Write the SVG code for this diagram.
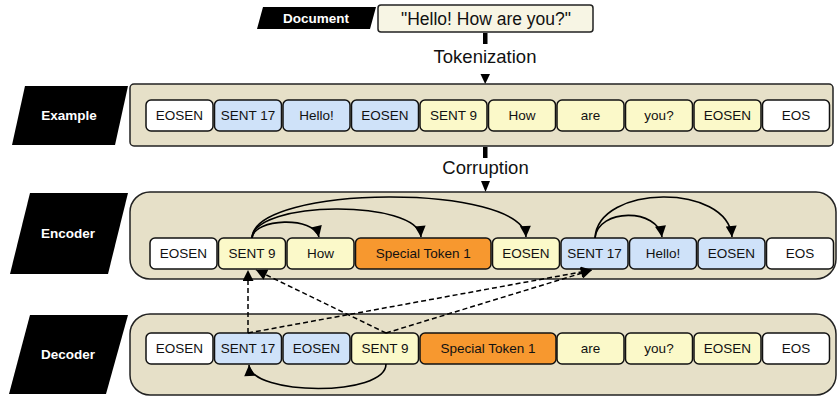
<svg xmlns="http://www.w3.org/2000/svg" width="837" height="396" viewBox="0 0 837 396">
  <defs>
    <marker id="arrow" viewBox="0 0 10 10" refX="10" refY="5" markerWidth="12" markerHeight="11" markerUnits="userSpaceOnUse" orient="auto">
      <path d="M0,0 L10,5 L0,10 Z" fill="#000"/>
    </marker>
    <style>
      .label { fill: #000; }
      .label-text { font-family: "Liberation Sans", Arial, sans-serif; font-weight: bold; font-size: 13.5px; fill: #fff; text-anchor: middle; dominant-baseline: central; }
      .panel { fill: #e6e0c8; stroke: #222; stroke-width: 1.5; }
      .tok { stroke: #111; stroke-width: 1.5; }
      .tok-text { font-family: "Liberation Sans", Arial, sans-serif; font-size: 13.5px; fill: #111; text-anchor: middle; dominant-baseline: central; }
      .white { fill: #ffffff; }
      .blue { fill: #cfe2f9; }
      .yellow { fill: #fbf9c9; }
      .orange { fill: #f7982f; }
      .step-text { font-family: "Liberation Sans", Arial, sans-serif; font-size: 18.5px; fill: #111; text-anchor: middle; dominant-baseline: central; }
      .arc { fill: none; stroke: #000; stroke-width: 1.6; marker-end: url(#arrow); }
      .dash { fill: none; stroke: #000; stroke-width: 1.5; stroke-dasharray: 5 3; marker-end: url(#arrow); }
    </style>
  </defs>

  <!-- Document -->
  <g id="document">
    <polygon class="label" points="263,7 376,7 370,29 257,29"/>
    <text class="label-text" x="316" y="18">Document</text>
    <rect x="378" y="5" width="215" height="27" rx="3" fill="#f7f5e4" stroke="#222" stroke-width="1.5"/>
    <text class="tok-text" x="486" y="19" style="font-size:17.5px">"Hello! How are you?"</text>
  </g>

  <!-- Tokenization step -->
  <g id="tokenization">
    <rect x="483" y="33" width="4.5" height="11" fill="#000"/>
    <text class="step-text" x="485" y="56">Tokenization</text>
    <polygon points="480.5,74 490,74 485.2,84" fill="#000"/>
  </g>

  <!-- Example row -->
  <g id="example">
    <polygon class="label" points="25,86 128,86 115,145 12,145"/>
    <text class="label-text" x="69" y="115">Example</text>
    <rect class="panel" x="130" y="84" width="703" height="62" rx="4"/>
    <rect class="tok white" x="146" y="100" width="67" height="31" rx="5"/><text class="tok-text" x="179.5" y="115.5">EOSEN</text>
    <rect class="tok blue" x="214.5" y="100" width="67" height="31" rx="5"/><text class="tok-text" x="248" y="115.5">SENT 17</text>
    <rect class="tok blue" x="283" y="100" width="67" height="31" rx="5"/><text class="tok-text" x="316.5" y="115.5">Hello!</text>
    <rect class="tok blue" x="351.5" y="100" width="67" height="31" rx="5"/><text class="tok-text" x="385" y="115.5">EOSEN</text>
    <rect class="tok yellow" x="420" y="100" width="67" height="31" rx="5"/><text class="tok-text" x="453.5" y="115.5">SENT 9</text>
    <rect class="tok yellow" x="488.5" y="100" width="67" height="31" rx="5"/><text class="tok-text" x="522" y="115.5">How</text>
    <rect class="tok yellow" x="557" y="100" width="67" height="31" rx="5"/><text class="tok-text" x="590.5" y="115.5">are</text>
    <rect class="tok yellow" x="625.5" y="100" width="67" height="31" rx="5"/><text class="tok-text" x="659" y="115.5">you?</text>
    <rect class="tok yellow" x="694" y="100" width="67" height="31" rx="5"/><text class="tok-text" x="727.5" y="115.5">EOSEN</text>
    <rect class="tok white" x="762.5" y="100" width="67" height="31" rx="5"/><text class="tok-text" x="796" y="115.5">EOS</text>
  </g>

  <!-- Corruption step -->
  <g id="corruption">
    <rect x="483" y="147" width="4.5" height="11" fill="#000"/>
    <text class="step-text" x="485.5" y="167">Corruption</text>
    <polygon points="481,181 490,181 485.5,192" fill="#000"/>
  </g>

  <!-- Encoder row -->
  <g id="encoder">
    <polygon class="label" points="30,193 128,193 108,274 10,274"/>
    <text class="label-text" x="68" y="233">Encoder</text>
    <rect class="panel" x="130" y="192" width="706" height="87" rx="20"/>
    <rect class="tok white" x="150" y="238" width="67" height="31" rx="5"/><text class="tok-text" x="183.5" y="253.5">EOSEN</text>
    <rect class="tok yellow" x="218.5" y="238" width="67" height="31" rx="5"/><text class="tok-text" x="252" y="253.5">SENT 9</text>
    <rect class="tok yellow" x="287" y="238" width="67" height="31" rx="5"/><text class="tok-text" x="320.5" y="253.5">How</text>
    <rect class="tok orange" x="355.5" y="238" width="135.5" height="31" rx="5"/><text class="tok-text" x="423.2" y="253.5">Special Token 1</text>
    <rect class="tok yellow" x="492.5" y="238" width="67" height="31" rx="5"/><text class="tok-text" x="526" y="253.5">EOSEN</text>
    <rect class="tok blue" x="561" y="238" width="67" height="31" rx="5"/><text class="tok-text" x="594.5" y="253.5">SENT 17</text>
    <rect class="tok blue" x="629.5" y="238" width="67" height="31" rx="5"/><text class="tok-text" x="663" y="253.5">Hello!</text>
    <rect class="tok blue" x="698" y="238" width="67" height="31" rx="5"/><text class="tok-text" x="731.5" y="253.5">EOSEN</text>
    <rect class="tok white" x="766.5" y="238" width="67" height="31" rx="5"/><text class="tok-text" x="800" y="253.5">EOS</text>
  </g>

  <!-- Decoder row -->
  <g id="decoder">
    <polygon class="label" points="30,315 128,315 106,394 9,394"/>
    <text class="label-text" x="68" y="354">Decoder</text>
    <rect class="panel" x="130" y="314" width="706" height="81" rx="20"/>
    <rect class="tok white" x="146" y="333" width="67" height="31" rx="5"/><text class="tok-text" x="179.5" y="348.5">EOSEN</text>
    <rect class="tok blue" x="214.5" y="333" width="67" height="31" rx="5"/><text class="tok-text" x="248" y="348.5">SENT 17</text>
    <rect class="tok blue" x="283" y="333" width="67" height="31" rx="5"/><text class="tok-text" x="316.5" y="348.5">EOSEN</text>
    <rect class="tok yellow" x="351.5" y="333" width="67" height="31" rx="5"/><text class="tok-text" x="385" y="348.5">SENT 9</text>
    <rect class="tok orange" x="420" y="333" width="136" height="31" rx="5"/><text class="tok-text" x="488" y="348.5">Special Token 1</text>
    <rect class="tok yellow" x="557" y="333" width="67" height="31" rx="5"/><text class="tok-text" x="590.5" y="348.5">are</text>
    <rect class="tok yellow" x="625.5" y="333" width="67" height="31" rx="5"/><text class="tok-text" x="659" y="348.5">you?</text>
    <rect class="tok yellow" x="694" y="333" width="67" height="31" rx="5"/><text class="tok-text" x="727.5" y="348.5">EOSEN</text>
    <rect class="tok white" x="762.5" y="333" width="67" height="31" rx="5"/><text class="tok-text" x="796" y="348.5">EOS</text>
  </g>

  <!-- Connectors -->
  <g id="connectors">
    <!-- encoder: SENT 9 links -->
    <path class="arc" d="M252,238 C254,218 314,216 319,237"/>
    <path class="arc" d="M252,238 C254,200 418,199 421,237"/>
    <path class="arc" d="M252,238 C254,184 523,183 526,237"/>
    <!-- encoder: SENT 17 links -->
    <path class="arc" d="M595,238 C598,208 658,208 662,237"/>
    <path class="arc" d="M595,238 C598,184 728,183 732,237"/>
    <!-- decoder: SENT 9 back to SENT 17 -->
    <path class="arc" d="M386,364 C386,397 251,396 249,365"/>
    <!-- decoder to encoder dashed links -->
    <path class="dash" d="M248,333 L248,270"/>
    <path class="dash" d="M386,333 L256,270"/>
    <path class="dash" d="M248,333 L592,270"/>
    <path class="dash" d="M386,333 L592,270"/>
  </g>
</svg>
